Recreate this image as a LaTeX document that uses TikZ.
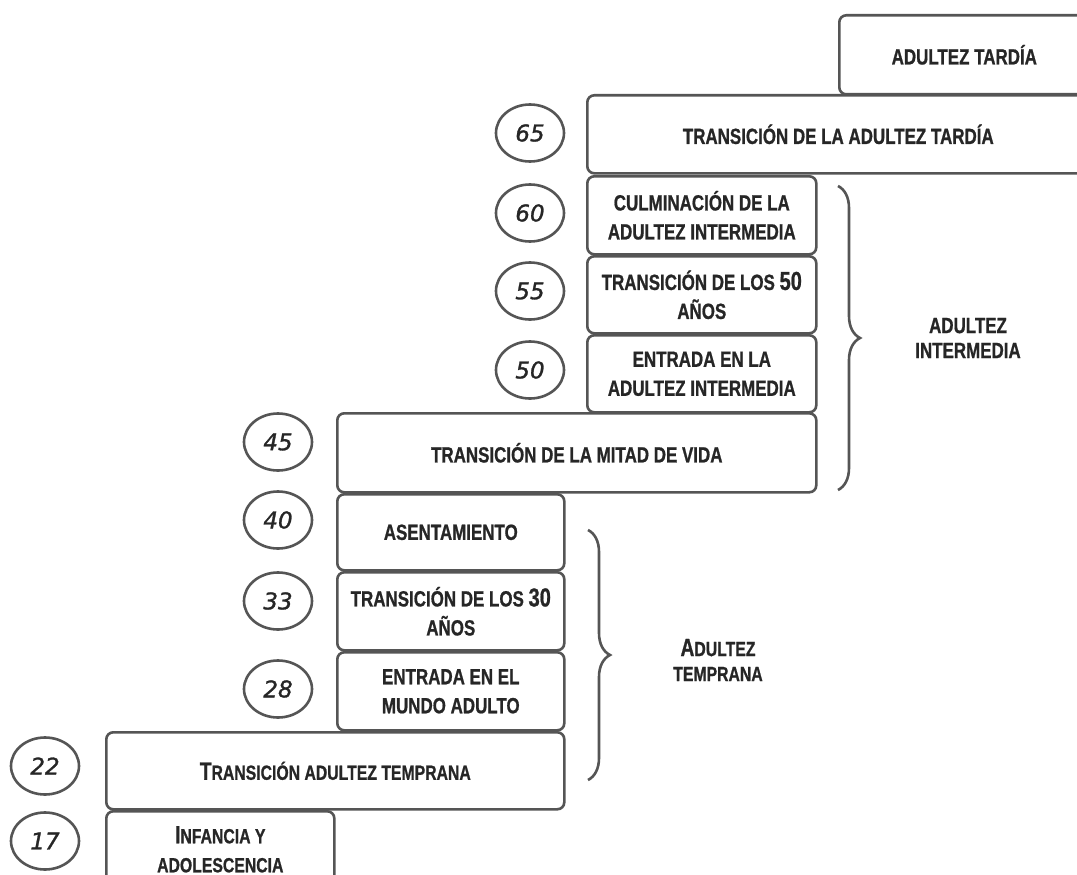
\documentclass[tikz,border=0pt]{standalone}
\usepackage{fontspec}
\usetikzlibrary{shapes.geometric,decorations.pathreplacing}
\newfontfamily\boxfont[FakeStretch=0.77, BoldFeatures={FakeBold=0.8}]{Liberation Sans}
\newfontfamily\numfont[FakeBold=1.2]{DejaVu Sans}
\definecolor{edge}{HTML}{555555}
\definecolor{ink}{HTML}{262626}
\newcommand{\SC}[2]{{\fontsize{25}{29}\selectfont #1}{\fontsize{20.5}{29}\selectfont #2}}
\begin{document}
\begin{tikzpicture}[x=1pt,y=-1pt,
  stage/.style={draw=edge, line width=2.6pt, rounded corners=7pt, fill=white,
    anchor=north west, inner sep=0pt, align=center, text=ink,
    font=\boxfont\bfseries\fontsize{22}{29}\selectfont},
  age/.style={draw=edge, line width=2.6pt, ellipse, minimum width=68pt, minimum height=57pt,
    inner sep=0pt, text=ink, font=\numfont\itshape\fontsize{23}{25}\selectfont},
  group/.style={text=ink, align=center, font=\boxfont\bfseries\fontsize{22}{25}\selectfont},
  curly/.style={draw=edge, line width=2.6pt, decorate, decoration={brace, amplitude=22pt}}]
\useasboundingbox[fill=white] (0,0) rectangle (1077,875);
\begin{scope}
\clip (0,0) rectangle (1077,875);
% boxes
\node[stage, minimum width=250pt, minimum height=79pt] (A) at (838,14) {ADULTEZ TARDÍA};
\node[stage, minimum width=502pt, minimum height=78pt] (B) at (586,94) {TRANSICIÓN DE LA ADULTEZ TARDÍA};
\node[stage, minimum width=229pt, minimum height=78pt] (C) at (586,175) {CULMINACIÓN DE LA\\ADULTEZ INTERMEDIA};
\node[stage, minimum width=229pt, minimum height=77pt] (D) at (586,255) {TRANSICIÓN DE LOS {\fontsize{26}{29}\selectfont 50}\\AÑOS};
\node[stage, minimum width=229pt, minimum height=77pt] (E) at (586,334) {ENTRADA EN LA\\ADULTEZ INTERMEDIA};
\node[stage, minimum width=479pt, minimum height=79pt] (F) at (336,412) {TRANSICIÓN DE LA MITAD DE VIDA};
\node[stage, minimum width=227pt, minimum height=76pt] (G) at (336,493) {ASENTAMIENTO};
\node[stage, minimum width=227pt, minimum height=78pt] (H) at (336,571) {TRANSICIÓN DE LOS {\fontsize{26}{29}\selectfont 30}\\AÑOS};
\node[stage, minimum width=227pt, minimum height=78pt] (I) at (336,651) {ENTRADA EN EL\\MUNDO ADULTO};
\node[stage, minimum width=458pt, minimum height=77pt] (J) at (105,731) {\SC{T}{RANSICIÓN ADULTEZ TEMPRANA}};
\node[stage, minimum width=228pt, minimum height=76pt] (K) at (105,810) {\SC{I}{NFANCIA Y}\\\SC{}{ADOLESCENCIA}};
% ages
\node[age] (a65) at (530,133) {65};
\node[age] (a60) at (530,213) {60};
\node[age] (a55) at (530,291) {55};
\node[age] (a50) at (530,370) {50};
\node[age] (a45) at (278,442) {45};
\node[age] (a40) at (278,520) {40};
\node[age] (a33) at (278,601) {33};
\node[age] (a28) at (278,689) {28};
\node[age] (a22) at (45,766) {22};
\node[age] (a17) at (45,841) {17};
% braces
\coordinate (m1t) at (838,186);
\coordinate (m1b) at (838,490);
\coordinate (m2t) at (588,530);
\coordinate (m2b) at (588,780);
\draw[curly] (m1t) -- (m1b);
\draw[curly] (m2t) -- (m2b);
\node[group] (gm) at (968,338) {ADULTEZ\\INTERMEDIA};
\node[group] (gt) at (718,660) {\SC{A}{DULTEZ}\\\SC{}{TEMPRANA}};
\end{scope}
\end{tikzpicture}
\end{document}
